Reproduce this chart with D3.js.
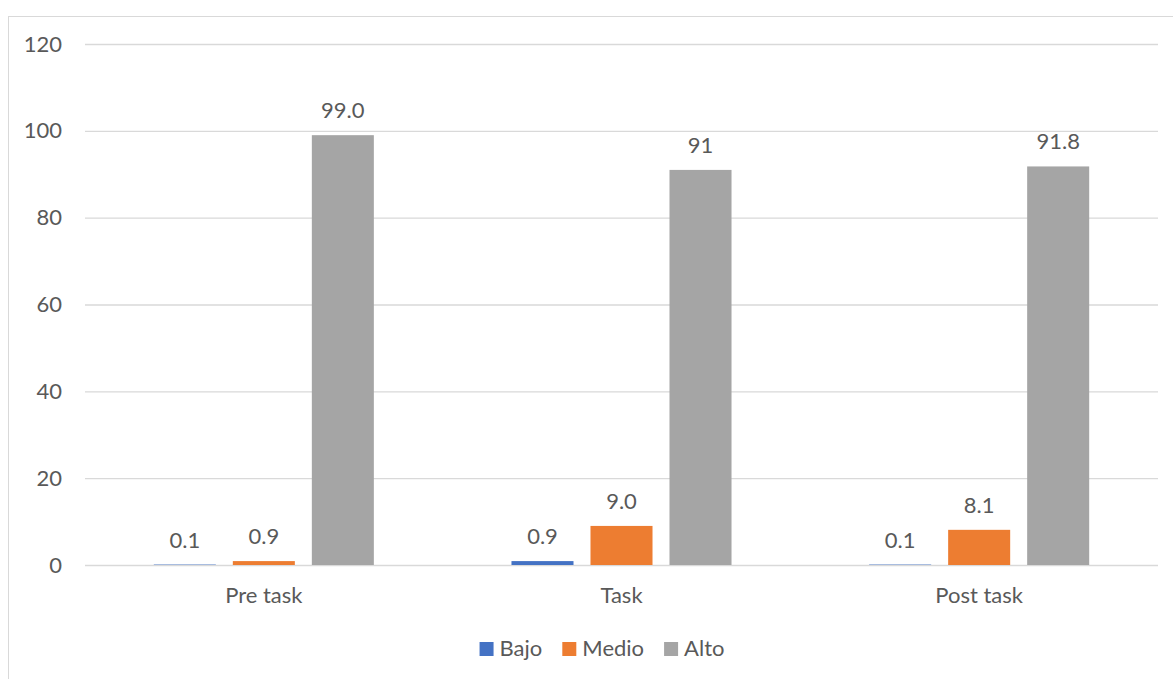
<!DOCTYPE html>
<html>
<head>
<meta charset="utf-8">
<script src="https://cdn.jsdelivr.net/npm/d3@7"></script>
<style>
    body { margin: 0; background: #fff; }
    text { font-family: Lato, "Open Sans", sans-serif; fill: #595959; }
</style>
</head>
<body>
<svg id="chart" width="1173" height="679"></svg>
<script>
// data
const categories = ["Pre task", "Task", "Post task"];
const seriesNames = ["Bajo", "Medio", "Alto"];
const bajo = [0.1, 0.9, 0.1];
const medio = [0.9, 9.0, 8.1];
const alto = [99.0, 91, 91.8];
const bajoLabels = ["0.1", "0.9", "0.1"];
const medioLabels = ["0.9", "9.0", "8.1"];
const altoLabels = ["99.0", "91", "91.8"];
const yTicks = [0, 20, 40, 60, 80, 100, 120];
const colors = ["#4472C4", "#ED7D31", "#A5A5A5"];

/** Simple clustered column chart */
class ColumnChart {
    /**
     * @param svg d3 selection of the svg
     */
    constructor(svg) {
        this.svg = svg;
        this.left = 85;
        this.right = 1158;
        this.top = 44;
        this.bottom = 565;

        this.x0 = d3.scaleBand().domain(categories).range([this.left, this.right]);
        this.x1 = d3.scaleBand().domain(seriesNames)
            .range([0, this.x0.bandwidth()])
            .paddingInner(0.215).paddingOuter(0.871);
        this.y = d3.scaleLinear().domain([0, 120]).range([this.bottom, this.top]);

        this.rows = [];
        let vals = [bajo, medio, alto];
        let labs = [bajoLabels, medioLabels, altoLabels];
        for (let c = 0; c < categories.length; c++) {
            for (let s = 0; s < seriesNames.length; s++) {
                this.rows.push({cat: categories[c], ser: seriesNames[s], value: vals[s][c], label: labs[s][c], color: colors[s]});
            }
        }
    }

    draw() {
        let self = this;
        let svg = self.svg;

        // chart frame
        svg.append("rect")
            .attr("x", 8.5).attr("y", 16.5)
            .attr("width", 1200).attr("height", 700)
            .attr("fill", "none").attr("stroke", "#D9D9D9");

        // gridlines + labels
        let yAxis = d3.axisLeft(self.y).tickValues(yTicks)
            .tickSize(-(self.right - self.left)).tickPadding(23);
        let g = svg.append("g")
            .attr("transform", "translate(" + self.left + ",0)")
            .call(yAxis);
        g.select(".domain").remove();
        g.selectAll(".tick line").attr("stroke", "#D9D9D9").attr("stroke-width", 1.3);
        g.selectAll(".tick text")
            .attr("fill", "#595959")
            .style("font-family", "Lato, 'Open Sans', sans-serif")
            .style("font-size", "22px");

        // bars
        svg.append("g").selectAll("rect")
            .data(self.rows).enter().append("rect")
            .attr("x", d => self.x0(d.cat) + self.x1(d.ser))
            .attr("y", d => self.y(d.value))
            .attr("width", self.x1.bandwidth())
            .attr("height", d => self.y(0) - self.y(d.value))
            .attr("fill", d => d.color);

        // data labels
        svg.append("g").selectAll("text")
            .data(self.rows).enter().append("text")
            .attr("x", d => self.x0(d.cat) + self.x1(d.ser) + self.x1.bandwidth() / 2)
            .attr("y", d => self.y(d.value) - 17)
            .attr("text-anchor", "middle")
            .style("font-size", "22px")
            .text(d => d.label);

        // category labels
        svg.append("g").selectAll("text")
            .data(categories).enter().append("text")
            .attr("x", d => self.x0(d) + self.x0.bandwidth() / 2)
            .attr("y", 603)
            .attr("text-anchor", "middle")
            .style("font-size", "22px")
            .text(d => d);

        // legend
        let legend = svg.append("g");
        let items = legend.selectAll("g").data(seriesNames).enter().append("g");
        items.append("rect")
            .attr("width", 14).attr("height", 14)
            .attr("y", 642)
            .attr("fill", (d, i) => colors[i]);
        items.append("text")
            .attr("x", 20).attr("y", 656)
            .style("font-size", "22px")
            .text(d => d);

        let widths = [];
        items.selectAll("text").each(function () { widths.push(this.getComputedTextLength()); });
        let total = 0;
        widths.forEach((w, i) => { total += 20 + w + (i < widths.length - 1 ? 20 : 0); });
        let pos = 602 - total / 2;
        items.attr("transform", (d, i) => {
            let p = pos;
            pos += 20 + widths[i] + 20;
            return "translate(" + p + ",0)";
        });
    }
}

let chart = new ColumnChart(d3.select("#chart"));
chart.draw();
</script>
</body>
</html>
